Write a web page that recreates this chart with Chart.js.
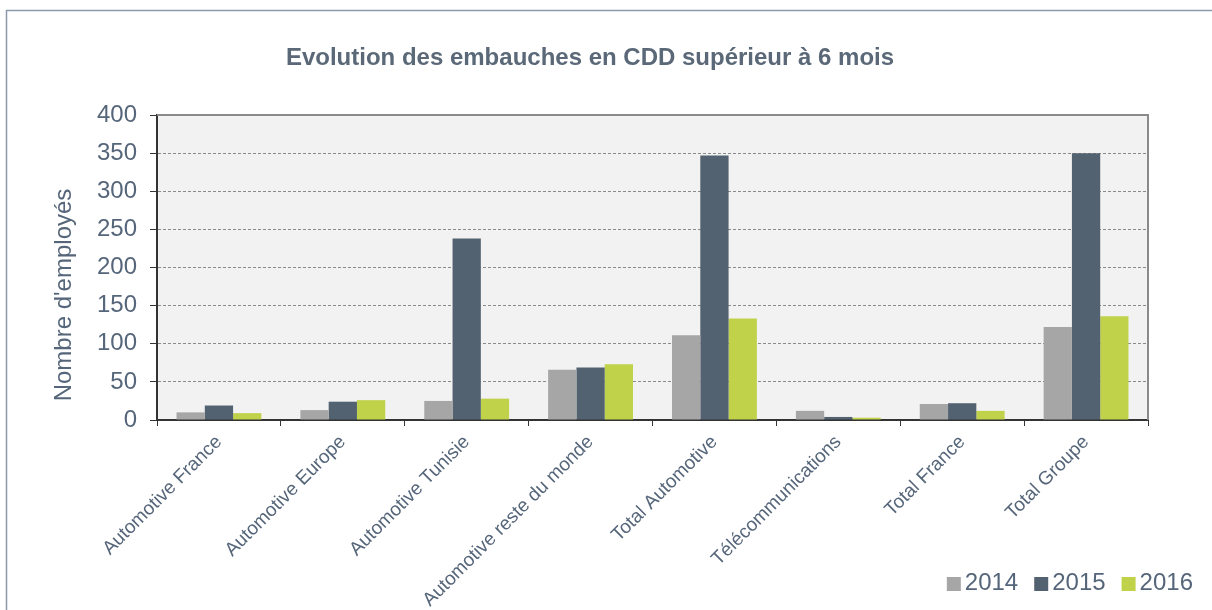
<!DOCTYPE html>
<html>
<head>
<meta charset="utf-8">
<script src="https://cdn.jsdelivr.net/npm/chart.js@4.4.1/dist/chart.umd.min.js"></script>
<style>
  html, body { margin: 0; padding: 0; background: #ffffff; }
  #wrap { width: 1212px; height: 610px; }
</style>
</head>
<body>
<div id="wrap"><canvas id="c" width="1212" height="610"></canvas></div>
<script>
const categories = ['Automotive France', 'Automotive Europe', 'Automotive Tunisie', 'Automotive reste du monde', 'Total Automotive', 'Télécommunications', 'Total France', 'Total Groupe'];
const seriesNames = ['2014', '2015', '2016'];
const values2014 = [10, 13, 25, 66, 111, 12, 21, 122];
const values2015 = [19, 24, 238, 69, 347, 4, 22, 350];
const values2016 = [9, 26, 28, 73, 133, 3, 12, 136];
const yTicks = [0, 50, 100, 150, 200, 250, 300, 350, 400];
const chartTitle = 'Evolution des embauches en CDD supérieur à 6 mois';
const yTitle = "Nombre d'employés";

const TEXT = '#56667a';
const FONT = "'Liberation Sans', Arial, sans-serif";

const decorPlugin = {
  id: 'decor',
  beforeDraw(chart) {
    const ctx = chart.ctx, a = chart.chartArea;
    ctx.save();
    ctx.fillStyle = '#ffffff';
    ctx.fillRect(0, 0, chart.width, chart.height);
    ctx.strokeStyle = '#8c99aa';
    ctx.lineWidth = 1.5;
    ctx.beginPath();
    ctx.moveTo(6.5, chart.height);
    ctx.lineTo(6.5, 10.5);
    ctx.lineTo(chart.width, 10.5);
    ctx.stroke();
    ctx.fillStyle = '#f2f2f2';
    ctx.fillRect(a.left, a.top, a.right - a.left, a.bottom - a.top);
    ctx.restore();
  },
  afterDatasetsDraw(chart) {
    const ctx = chart.ctx, a = chart.chartArea;
    ctx.save();
    ctx.strokeStyle = '#8a8a8a';
    ctx.lineWidth = 2;
    ctx.beginPath();
    ctx.moveTo(a.left, a.top);
    ctx.lineTo(a.right, a.top);
    ctx.lineTo(a.right, a.bottom);
    ctx.stroke();
    ctx.restore();
  },
  afterDraw(chart) {
    const ctx = chart.ctx;
    ctx.save();
    ctx.fillStyle = '#5a6878';
    ctx.font = 'bold 24px ' + FONT;
    ctx.textAlign = 'center';
    ctx.textBaseline = 'middle';
    ctx.fillText(chartTitle, 590, 58);
    ctx.save();
    ctx.translate(64, 295);
    ctx.rotate(-Math.PI / 2);
    ctx.fillStyle = TEXT;
    ctx.font = '24px ' + FONT;
    ctx.fillText(yTitle, 0, 0);
    ctx.restore();
    ctx.font = '24px ' + FONT;
    ctx.textAlign = 'left';
    ctx.textBaseline = 'middle';
    const box = 14, gapText = 4, gapItem = 16, cy = 583;
    const items = chart.data.datasets.map(d => ({ label: d.label, color: d.backgroundColor, w: ctx.measureText(d.label).width }));
    let total = items.reduce((s, it) => s + box + gapText + it.w, 0) + gapItem * (items.length - 1);
    let x = 1193 - total;
    items.forEach(it => {
      ctx.fillStyle = it.color;
      ctx.fillRect(x, cy - box / 2 + 1, box, box);
      ctx.fillStyle = TEXT;
      ctx.fillText(it.label, x + box + gapText, cy);
      x += box + gapText + it.w + gapItem;
    });
    ctx.restore();
  }
};

new Chart(document.getElementById('c'), {
  type: 'bar',
  data: {
    labels: categories,
    datasets: [
      { label: seriesNames[0], data: values2014, backgroundColor: '#a6a6a6', borderWidth: 0 },
      { label: seriesNames[1], data: values2015, backgroundColor: '#536271', borderWidth: 0 },
      { label: seriesNames[2], data: values2016, backgroundColor: '#bfd24a', borderWidth: 0 }
    ]
  },
  options: {
    responsive: false,
    animation: false,
    layout: { padding: { left: 0, right: 11, top: 115, bottom: 0 } },
    datasets: { bar: { categoryPercentage: 0.685, barPercentage: 1.0 } },
    plugins: {
      title: { display: false },
      tooltip: { enabled: false },
      legend: { display: false }
    },
    scales: {
      x: {
        offset: true,
        grid: { display: true, offset: true, drawOnChartArea: false, tickLength: 6, tickColor: '#333333', color: '#333333' },
        border: { display: true, color: '#333333', width: 2 },
        ticks: {
          color: TEXT,
          font: { family: FONT, size: 19 },
          maxRotation: 45,
          minRotation: 45,
          autoSkip: false,
          padding: 5
        },
        afterFit(s) { s.height = 190; }
      },
      y: {
        min: 0,
        max: 400,
        afterBuildTicks(s) { s.ticks = yTicks.map(v => ({ value: v })); },
        grid: { color: '#8a8a8a', lineWidth: 1, tickLength: 7, tickColor: '#333333', tickWidth: 1 },
        border: { display: true, color: '#333333', width: 2, dash: [3, 2] },
        ticks: {
          color: TEXT,
          font: { family: FONT, size: 24 },
          padding: 13
        },
        afterFit(s) { s.width = 157; }
      },
      yRight: {
        position: 'right',
        display: true,
        grid: { display: false },
        border: { display: false },
        ticks: { display: false },
        afterFit(s) { s.width = 53; }
      }
    }
  },
  plugins: [decorPlugin]
});
</script>
</body>
</html>
